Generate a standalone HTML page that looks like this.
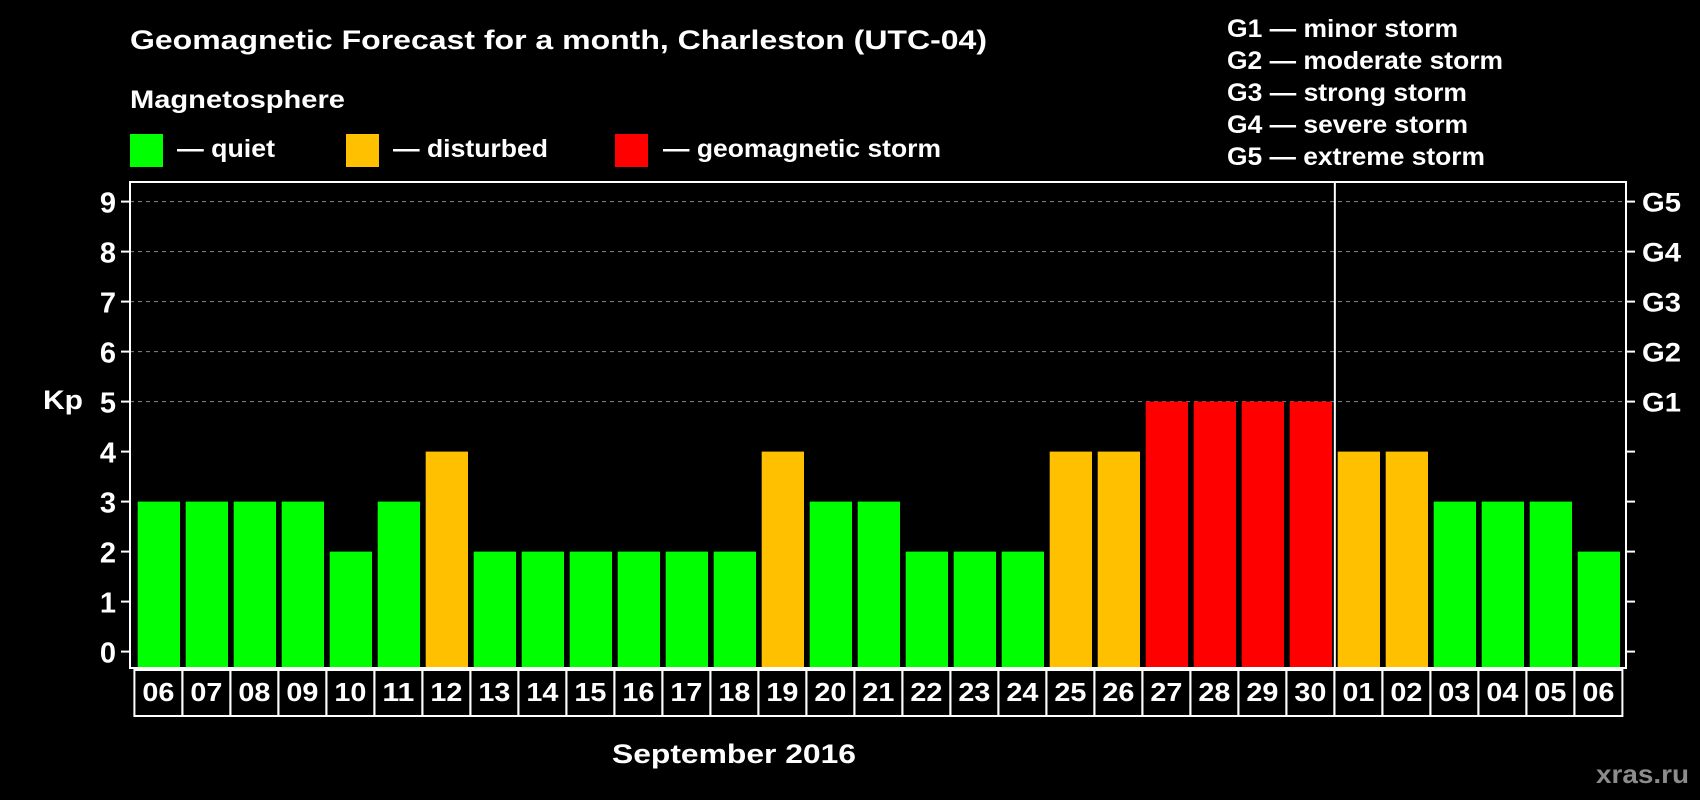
<!DOCTYPE html>
<html><head><meta charset="utf-8"><style>
html,body{margin:0;padding:0;background:#000;}
svg{display:block;font-family:"Liberation Sans",Arial,sans-serif;font-weight:bold;}
</style></head><body>
<svg id="chart" width="1700" height="800" viewBox="0 0 1700 800">
<rect x="0" y="0" width="1700" height="800" fill="#000"/>
<text x="130" y="49" fill="#fff" font-size="27" textLength="857" lengthAdjust="spacingAndGlyphs">Geomagnetic Forecast for a month, Charleston (UTC-04)</text>
<text x="130" y="108" fill="#fff" font-size="25" textLength="215" lengthAdjust="spacingAndGlyphs">Magnetosphere</text>
<g><rect x="130" y="134" width="33" height="33" fill="#00ff00"/><text x="177" y="157" fill="#fff" font-size="25" textLength="98" lengthAdjust="spacingAndGlyphs">— quiet</text></g>
<g><rect x="346" y="134" width="33" height="33" fill="#ffc000"/><text x="393" y="157" fill="#fff" font-size="25" textLength="155" lengthAdjust="spacingAndGlyphs">— disturbed</text></g>
<g><rect x="615" y="134" width="33" height="33" fill="#ff0000"/><text x="663" y="157" fill="#fff" font-size="25" textLength="278" lengthAdjust="spacingAndGlyphs">— geomagnetic storm</text></g>
<g fill="#fff" font-size="25">
<text x="1227" y="37" textLength="231" lengthAdjust="spacingAndGlyphs">G1 — minor storm</text>
<text x="1227" y="69" textLength="276" lengthAdjust="spacingAndGlyphs">G2 — moderate storm</text>
<text x="1227" y="101" textLength="240" lengthAdjust="spacingAndGlyphs">G3 — strong storm</text>
<text x="1227" y="133" textLength="241" lengthAdjust="spacingAndGlyphs">G4 — severe storm</text>
<text x="1227" y="165" textLength="258" lengthAdjust="spacingAndGlyphs">G5 — extreme storm</text>
</g>
<text x="43" y="409" fill="#fff" font-size="27" textLength="40" lengthAdjust="spacingAndGlyphs">Kp</text>
<text x="612" y="763" fill="#fff" font-size="27" textLength="244" lengthAdjust="spacingAndGlyphs">September 2016</text>
<text x="1596" y="783" fill="#8c8c8c" font-size="26" textLength="93" lengthAdjust="spacingAndGlyphs">xras.ru</text>
<g id="grid"></g><g id="bars"></g><g id="axes"></g>
</svg>
<script>
const days=["06","07","08","09","10","11","12","13","14","15","16","17","18","19","20","21","22","23","24","25","26","27","28","29","30","01","02","03","04","05","06"];
const kp=[3,3,3,3,2,3,4,2,2,2,2,2,2,4,3,3,2,2,2,4,4,5,5,5,5,4,4,3,3,3,2];
const yTicks=[0,1,2,3,4,5,6,7,8,9];
const gLabels=["G1","G2","G3","G4","G5"];
const gLevels=[5,6,7,8,9];
const NS="http://www.w3.org/2000/svg";
const L=130,R=1626,T=182,B=668,Y0=651.6,U=50,X0=137.7,P=48,W=42.3;
const y=v=>Y0-v*U;
const x=i=>X0+i*P;
function mk(tag,a,p){const e=document.createElementNS(NS,tag);for(const k in a)e.setAttribute(k,a[k]);p.appendChild(e);return e;}
const grid=document.getElementById('grid'),bars=document.getElementById('bars'),axes=document.getElementById('axes');
gLevels.forEach(v=>{const l=mk('line',{x1:L,x2:R,y1:y(v),y2:y(v),stroke:'#888','stroke-dasharray':'4,4','stroke-width':1},grid);

});
const col=v=>v>=5?'#ff0000':(v>=4?'#ffc000':'#00ff00');
kp.forEach((v,i)=>{const r=mk('rect',{x:x(i),y:y(v),width:W,height:B-y(v),fill:col(v)},bars);

});
const f=mk('rect',{x:L,y:T,width:R-L,height:B-T,fill:'none',stroke:'#fff','stroke-width':2},axes);


const sx=(x(24)+W+x(25))/2;
const sep=mk('line',{x1:sx,x2:sx,y1:T,y2:B,stroke:'#fff','stroke-width':2},axes);


yTicks.forEach(v=>{mk('line',{x1:L-9,x2:L,y1:y(v),y2:y(v),stroke:'#fff','stroke-width':2},axes);
mk('line',{x1:R,x2:R+9,y1:y(v),y2:y(v),stroke:'#fff','stroke-width':2},axes);
const t=mk('text',{x:116,y:y(v)+11,fill:'#fff','font-size':29,'text-anchor':'end'},axes);t.textContent=v;

});
gLabels.forEach((g,i)=>{const t=mk('text',{x:1642,y:y(gLevels[i])+10,fill:'#fff','font-size':27,textLength:39,lengthAdjust:'spacingAndGlyphs'},axes);t.textContent=g;

});
days.forEach((d,i)=>{const cx=X0-3.3+i*P;
const c=mk('rect',{x:cx,y:B+2,width:P,height:46,fill:'none',stroke:'#fff','stroke-width':2},axes);


const t=mk('text',{x:cx+P/2-16,y:701,fill:'#fff','font-size':26,textLength:32,lengthAdjust:'spacingAndGlyphs'},axes);t.textContent=d;

});
</script>
</body></html>
